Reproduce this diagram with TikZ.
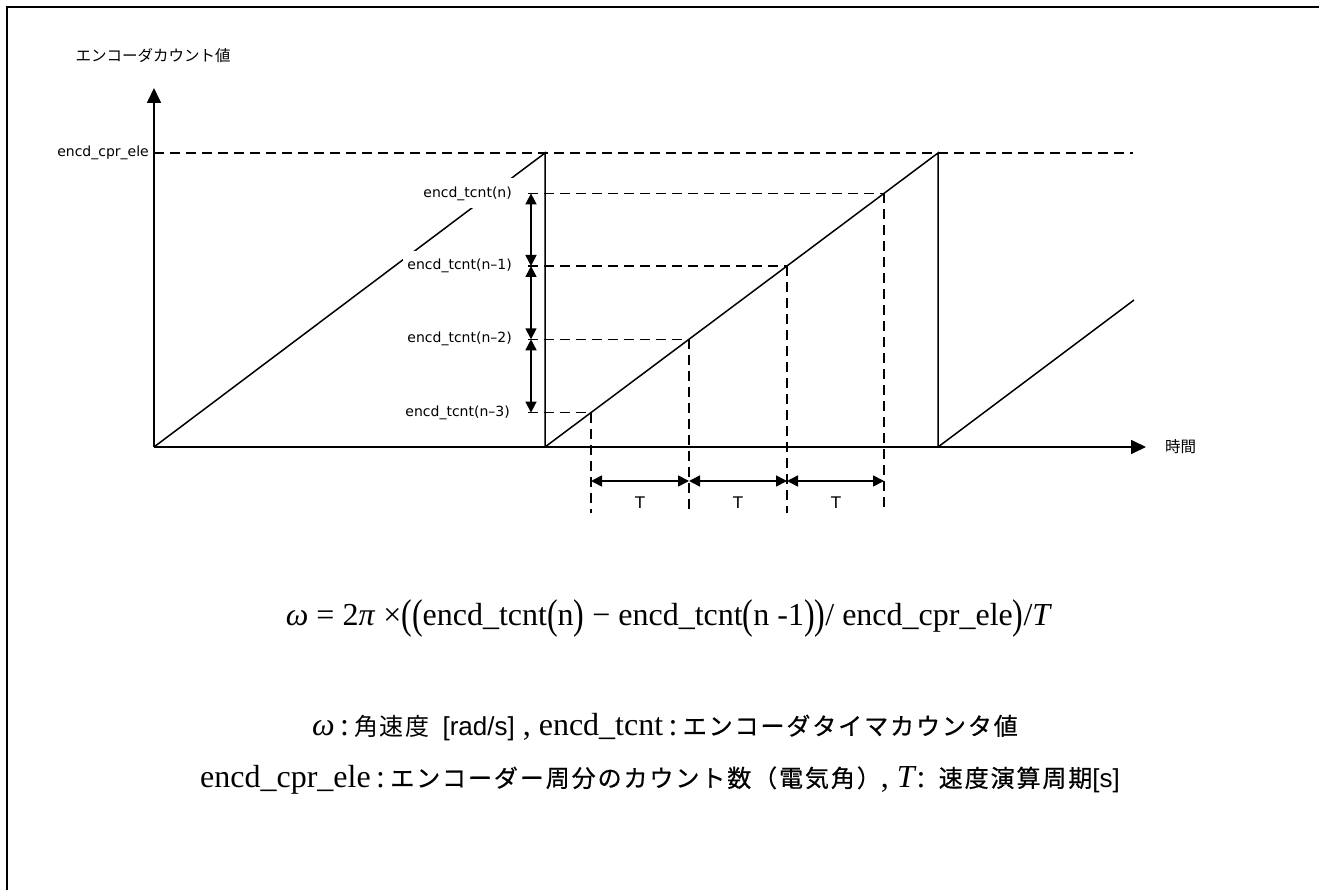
\documentclass[tikz,border=0pt]{standalone}
\usepackage{fontspec}
\usepackage{graphicx}
\setmainfont{Liberation Serif}
\newfontfamily\jpfont{Noto Sans CJK JP}
\newfontfamily\jpthin[LetterSpace=6]{Noto Sans CJK JP}
\newfontfamily\jpbold[FakeBold=0.6,LetterSpace=8]{Noto Sans CJK JP}
\newfontfamily\labfont{DejaVu Sans}
\newfontfamily\unitfont{Liberation Sans}
\usetikzlibrary{arrows.meta,positioning}
\newcommand{\bp}[1]{\raisebox{-0.12em}{\scalebox{1}[1.3]{#1}}}
\newcommand{\jpbig}{\fontsize{24}{28}\selectfont}
\tikzstyle{axis}=[line width=1.7pt, -{Triangle[length=15pt,width=14pt]}]
\tikzstyle{ramp}=[line width=1.5pt]
\tikzstyle{guide}=[line width=1.5pt, dash pattern=on 10pt off 6pt]
\tikzstyle{dim}=[line width=1.6pt, {Triangle[length=11pt,width=11pt]}-{Triangle[length=11pt,width=11pt]}]
\tikzstyle{lab}=[font=\labfont\fontsize{14}{16}\selectfont, inner sep=0pt]
\tikzstyle{cntlab}=[lab, fill=white, inner xsep=4pt, inner ysep=8pt, anchor=east]
\tikzstyle{jplab}=[font=\jpfont\fontsize{15.5}{18}\selectfont, inner sep=0pt]
\tikzstyle{formula}=[font=\fontsize{32}{36}\selectfont, inner sep=0pt, anchor=base]

\begin{document}
\begin{tikzpicture}[x=1pt, y=-1pt]
            \useasboundingbox (0,0) rectangle (1319,890);
            \draw[line width=2pt] (7,890) -- (7,7) -- (1319,7);

            % axes
            \coordinate (O) at (154,447);
            \coordinate (ytip) at (154,88);
            \coordinate (xtip) at (1146,447);
            \draw[axis] (O) -- (ytip);
            \draw[axis] (O) -- (xtip);
            \node[jplab] (ylab) at (153,56) {エンコーダカウント値};
            \node[jplab, anchor=west] (xlab) at (1165,447) {時間};

            % full count
            \coordinate (cprA) at (154,153);
            \coordinate (cprB) at (1133,153);
            \node[lab, anchor=east] (cpr) at (149,153) {encd\_cpr\_ele};
            \draw[guide] (cprA) -- (cprB);

            % saw tooth
            \coordinate (r1) at (545,153);
            \coordinate (r1b) at (545,447);
            \coordinate (r2) at (938,153);
            \coordinate (r2b) at (938,447);
            \coordinate (r3) at (1134,300);
            \draw[ramp] (O) -- (r1) -- (r1b);
            \draw[ramp] (r1b) -- (r2) -- (r2b);
            \draw[ramp] (r2b) -- (r3);

            % sampled counts
            \coordinate (p0) at (884,193.4);
            \coordinate (p1) at (787,266.0);
            \coordinate (p2) at (689,339.3);
            \coordinate (p3) at (591,412.6);
            \node[cntlab] (n0) at (516,193.4) {encd\_tcnt(n)};
            \node[cntlab] (n1) at (516,266.0) {encd\_tcnt(n–1)};
            \node[cntlab] (n2) at (516,339.3) {encd\_tcnt(n–2)};
            \node[cntlab] (n3) at (514,412.6) {encd\_tcnt(n–3)};
            \draw[guide] (528,193.4) -- (p0);
            \draw[guide] (528,266.0) -- (p1);
            \draw[guide] (528,339.3) -- (p2);
            \draw[guide] (528,412.6) -- (p3);
            \draw[guide] (p0) -- (884,513);
            \draw[guide] (p1) -- (787,513);
            \draw[guide] (p2) -- (689,513);
            \draw[guide] (p3) -- (591,513);

            % count differences
            \coordinate (d0) at (531,193.4);
            \coordinate (d1) at (531,266.0);
            \coordinate (d2) at (531,339.3);
            \coordinate (d3) at (531,412.6);
            \draw[dim] (d0) -- (d1);
            \draw[dim] (d1) -- (d2);
            \draw[dim] (d2) -- (d3);

            % periods
            \coordinate (t3) at (591,481);
            \coordinate (t2) at (689,481);
            \coordinate (t1) at (787,481);
            \coordinate (t0) at (884,481);
            \draw[dim] (t3) -- (t2);
            \draw[dim] (t2) -- (t1);
            \draw[dim] (t1) -- (t0);
            \node[lab, font=\labfont\fontsize{16}{18}\selectfont] (T1) at (640,503) {T};
            \node[lab, font=\labfont\fontsize{16}{18}\selectfont] (T2) at (738,503) {T};
            \node[lab, font=\labfont\fontsize{16}{18}\selectfont] (T3) at (836,503) {T};

            % formula and legend
            \node[formula] (eq) at (669,625) {\textit{ω} = 2\textit{π} ×\bp{(}\bp{(}encd\_tcnt\bp{(}n\bp{)} − encd\_tcnt\bp{(}n -1\bp{)}\bp{)}/ encd\_cpr\_ele\bp{)}/\textit{T}};
            \node[formula] (leg1) at (665,735) {\textit{ω}\,:\,{\jpthin\jpbig 角速度} \,{\unitfont\fontsize{26}{30}\selectfont [rad/s]} , encd\_tcnt\,:\,{\jpbold\jpbig エンコーダタイマカウンタ値}};
            \node[formula] (leg2) at (660,787) {encd\_cpr\_ele\,:\,{\jpbold\jpbig エンコーダー周分のカウント数（電気角）}, \textit{T}:\, {\jpbold\jpbig 速度演算周期}{\unitfont\fontsize{26}{30}\selectfont [s]}};
        \end{tikzpicture}
\end{document}
